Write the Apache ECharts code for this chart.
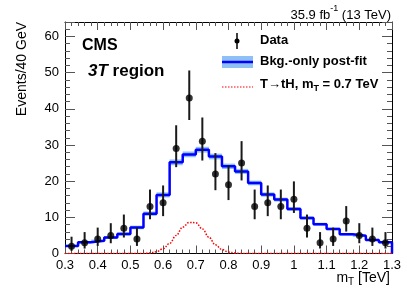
<!DOCTYPE html>
<html><head><meta charset="utf-8">
<script src="https://cdn.jsdelivr.net/npm/echarts@6/dist/echarts.min.js"></script>
<style>html,body{margin:0;padding:0;background:#fff}#c{width:407px;height:292px}</style>
</head><body><div id="c"></div>
<script>
// bin low edges (TeV), width 0.04
const binEdges = [0.30,0.34,0.38,0.42,0.46,0.50,0.54,0.58,0.62,0.66,0.70,0.74,0.78,0.82,0.86,0.90,0.94,0.98,1.02,1.06,1.10,1.14,1.18,1.22,1.26];
const binWidth = 0.04;
// background-only post-fit prediction per bin
const bkg = [2.1,3.1,3.5,4.4,5.4,7.2,11.0,16.2,25.2,27.4,28.7,26.8,24.1,22.7,19.5,16.3,14.9,12.3,9.8,8.1,6.8,5.3,4.9,3.75,3.1];
// half-width of the uncertainty band
const bkgErr = [0.3,0.35,0.35,0.4,0.45,0.5,0.6,0.7,0.8,0.8,0.8,0.8,0.75,0.7,0.65,0.6,0.55,0.5,0.45,0.4,0.35,0.35,0.3,0.3,0.3];
// observed data at bin centres
const dataX = [0.32,0.36,0.40,0.44,0.48,0.52,0.56,0.60,0.64,0.68,0.72,0.76,0.80,0.84,0.88,0.92,0.96,1.00,1.04,1.08,1.12,1.16,1.20,1.24,1.28];
const dataY = [2,3,4,5,7,4,13,14,29,43,31,22,19,25,13,14,13,15,7,3,4,9,5,4,3];
const dataErrLo = [1.29,1.63,1.91,2.16,2.58,1.91,3.53,3.67,5.13,6.1,5.3,4.5,4.23,4.8,3.53,3.67,3.53,3.79,2.58,1.63,1.91,2.94,2.16,1.91,1.63];
const dataErrHi = [2.64,2.92,3.16,3.38,3.77,3.16,4.68,4.81,6.45,7.6,6.6,5.75,5.42,6.06,4.68,4.81,4.68,4.94,3.77,2.92,3.16,4.11,3.38,3.16,2.92];
// signal T->tH, mT = 0.7 TeV
const sigX = [0.30,0.40,0.50,0.54,0.56,0.58,0.60,0.62,0.64,0.66,0.68,0.70,0.72,0.74,0.76,0.78,0.80,0.82,0.84,0.90,1.00,1.10,1.20,1.30];
const sigY = [0,0,0,0.02,0.15,0.5,1.3,2.8,5.0,7.3,8.6,8.5,6.8,4.5,2.4,1.1,0.4,0.12,0.02,0,0,0,0,0];
const xTicks = ['0.3','0.4','0.5','0.6','0.7','0.8','0.9','1','1.1','1.2','1.3'];

const FONT = '"Liberation Sans", Arial, Helvetica, sans-serif';
const chart = echarts.init(document.getElementById('c'), null, {renderer:'canvas'});

const stepData = binEdges.map((e,i)=>[e,bkg[i]]);
stepData.push([1.30,bkg[bkg.length-1]]);
stepData.push([1.30,0]);

const bandData = binEdges.map((e,i)=>[e, e+binWidth, bkg[i]-bkgErr[i], bkg[i]+bkgErr[i]]);
const errData = dataX.map((x,i)=>[x, dataY[i]-dataErrLo[i], dataY[i]+dataErrHi[i]]);

const tickCommon = ()=>({
  axisLine:{show:true,onZero:false,lineStyle:{color:'#000',width:1}},
  splitLine:{show:false}
});

function xAx(pos, labels){
  return Object.assign(tickCommon(), {
    type:'value', position:pos, min:0.3, max:1.3, interval:0.1,
    axisTick:{show:true,inside:true,length:8,lineStyle:{color:'#555',width:1}},
    minorTick:{show:true,splitNumber:5,length:4,lineStyle:{color:'#555',width:1}},
    axisLabel:{show:labels,margin:5,color:'#000',fontSize:13,fontFamily:FONT,
      formatter:(v)=>{const i=Math.round((v-0.3)/0.1); return xTicks[i]!==undefined?xTicks[i]:'';}},
  });
}
function yAx(pos, labels){
  return Object.assign(tickCommon(), {
    type:'value', position:pos, min:0, max:64, interval:10,
    axisTick:{show:true,inside:true,length:10,lineStyle:{color:'#555',width:1}},
    minorTick:{show:true,splitNumber:5,length:5,lineStyle:{color:'#555',width:1}},
    axisLabel:{show:labels,margin:6,color:'#000',fontSize:13,fontFamily:FONT,showMaxLabel:false,
      formatter:(v)=> (v%10===0 ? String(v) : '')},
  });
}

const option = {
  animation:false,
  backgroundColor:'#fff',
  grid:{left:65,right:15,top:22,bottom:38.5,containLabel:false},
  xAxis:[xAx('bottom',true), xAx('top',false)],
  yAxis:[yAx('left',true), yAx('right',false)],
  series:[
    {type:'custom', name:'band', data:bandData, z:2,
     renderItem:(params,api)=>{
       const p0=api.coord([api.value(0),api.value(3)]);
       const p1=api.coord([api.value(1),api.value(2)]);
       return {type:'rect',shape:{x:p0[0],y:p0[1],width:p1[0]-p0[0],height:p1[1]-p0[1]},
         style:{fill:'#8fc0f5'}};
     }},
    {type:'line', name:'bkg', data:stepData, step:'end', symbol:'none', z:3,
     lineStyle:{color:'#0000ff',width:2.5}},
    {type:'line', name:'sig', data:sigX.map((x,i)=>[x,sigY[i]]), smooth:0.4, smoothMonotone:'x',
     symbol:'none', z:4, lineStyle:{color:'#ff0000',width:1.5,type:[1.5,1.5]}},
    {type:'custom', name:'err', data:errData, z:5,
     renderItem:(params,api)=>{
       const a=api.coord([api.value(0),api.value(1)]);
       const b=api.coord([api.value(0),api.value(2)]);
       return {type:'line',shape:{x1:a[0],y1:a[1],x2:b[0],y2:b[1]},style:{stroke:'#1a1a1a',lineWidth:2}};
     }},
    {type:'scatter', name:'Data', data:dataX.map((x,i)=>[x,dataY[i]]), symbol:'circle', symbolSize:7, z:6,
     itemStyle:{color:'#000'}}
  ],
  graphic:[
    {type:'text',right:16,top:4,style:{text:'{a|35.9 fb}{s|-1}{a| (13 TeV)}',fill:'#000',
      rich:{a:{fontSize:13,fontFamily:FONT,verticalAlign:'bottom',lineHeight:18},s:{fontSize:9,fontFamily:FONT,verticalAlign:'top',lineHeight:18,padding:[0,0,9,0]}}}},
    {type:'text',left:82,top:38,style:{text:'CMS',fontSize:16,fontWeight:'bold',fontFamily:FONT,fill:'#000'}},
    {type:'text',left:88,top:63,style:{text:'{i|3T}{b| region}',
      rich:{i:{fontSize:17,fontWeight:'bold',fontStyle:'italic',fontFamily:FONT,fill:'#000'},
            b:{fontSize:17,fontWeight:'bold',fontFamily:FONT,fill:'#000'}}}},
    {type:'text',left:15,top:22,rotation:Math.PI/2,originX:0,originY:0,
      style:{text:'Events/40 GeV',fontSize:14,fontFamily:FONT,fill:'#000'}},
    {type:'text',right:17,top:271,style:{text:'{a|m}{s|T}{a| [TeV]}',
      rich:{a:{fontSize:14,fontFamily:FONT,fill:'#000'},s:{fontSize:10,fontFamily:FONT,fill:'#000',padding:[8,0,0,0]}}}},
    // legend
    {type:'line',shape:{x1:237,y1:33,x2:237,y2:49},style:{stroke:'#000',lineWidth:1.5}},
    {type:'circle',shape:{cx:237,cy:41,r:2.5},style:{fill:'#000'}},
    {type:'text',left:260,top:34,style:{text:'Data',fontSize:13,fontWeight:'bold',fontFamily:FONT,fill:'#000'}},
    {type:'rect',shape:{x:222,y:56,width:31,height:12},style:{fill:'#8fc0f5'}},
    {type:'line',shape:{x1:222,y1:62,x2:253,y2:62},style:{stroke:'#0000ff',lineWidth:2.5}},
    {type:'text',left:260,top:55,style:{text:'Bkg.-only post-fit',fontSize:13,fontWeight:'bold',fontFamily:FONT,fill:'#000'}},
    {type:'line',shape:{x1:222,y1:87,x2:253,y2:87},style:{stroke:'#ff0000',lineWidth:1.2,lineDash:[1.5,1.5]}},
    {type:'text',left:260,top:78,style:{text:'{b|T}{r|→}{b|tH, m}{s|T}{b| = 0.7 TeV}',
      rich:{b:{fontSize:13,fontWeight:'bold',fontFamily:FONT,fill:'#000'},
            r:{fontSize:13,fontFamily:FONT,fill:'#000'},
            s:{fontSize:9,fontWeight:'bold',fontFamily:FONT,fill:'#000',padding:[8,0,0,0]}}}}
  ]
};
chart.setOption(option);
</script></body></html>
